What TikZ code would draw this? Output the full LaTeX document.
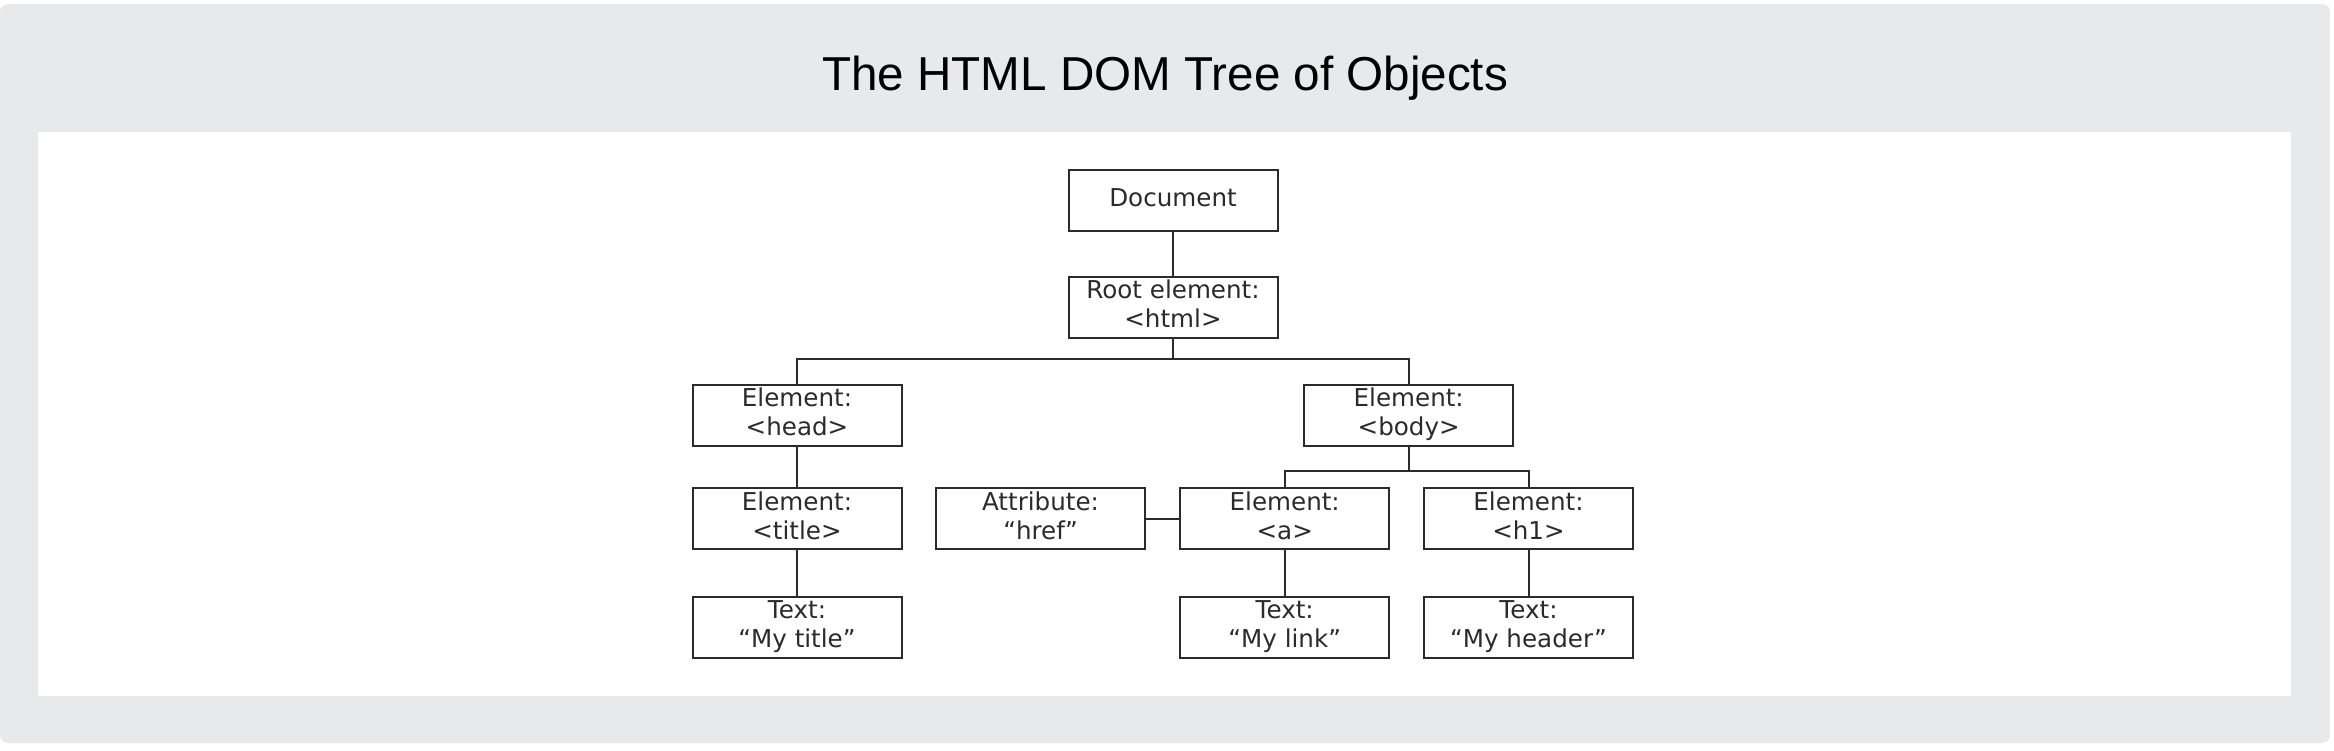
\documentclass[tikz,border=0pt]{standalone}
\usepackage{fontspec}
\setmainfont{Liberation Sans}
\newfontfamily\boxfont{DejaVu Sans}
\usetikzlibrary{positioning,calc}
\definecolor{Panel}{HTML}{E8E9EB}
\definecolor{Stroke}{HTML}{2B2B2B}

\begin{document}
\begin{tikzpicture}[x=.5pt,y=.5pt,
    box/.style={draw=Stroke, line width=1pt, fill=white, minimum width=104.5pt, minimum height=30.5pt,
      inner sep=0pt, align=center, text=Stroke, font=\boxfont\fontsize{12.3}{14.5}\selectfont}]
  \useasboundingbox (0,0) rectangle (2334,-750);
  \fill[Panel, rounded corners=4pt] (0,-4) rectangle (2330,-743);
  \fill[white] (38,-132) rectangle (2291,-696);
  \node[font=\fontsize{23.8}{28}\selectfont] (titre) at (1165,-78.5) {The HTML DOM Tree of Objects};

  \foreach \nom/\px/\py/\txt in {doc/1173/200.5/{Document}, html/1173/307/{Root element:\\<html>},
      head/797/415/{Element:\\<head>}, body/1408.7/415/{Element:\\<body>},
      title/797/518.7/{Element:\\<title>}, attr/1040.5/518.7/{Attribute:\\“href”},
      a/1284.7/518.7/{Element:\\<a>}, h1/1528.5/518.7/{Element:\\<h1>},
      ttitle/797/627/{Text:\\“My title”}, tlink/1284.7/627/{Text:\\“My link”},
      theader/1528.5/627/{Text:\\“My header”}}{
    \node[box] (\nom) at (\px,-\py) {\strut\txt\strut};
  }

  \coordinate (split1) at (1173,-359);
  \coordinate (split2) at (1408.7,-470.7);
  \begin{scope}[draw=Stroke, line width=1pt]
    \draw (doc) -- (html);
    \draw (html) -- (split1);
    \draw (head.north) |- (split1) -| (body.north);
    \draw (body) -- (split2);
    \draw (a.north) |- (split2) -| (h1.north);
    \draw (head) -- (title);
    \draw (title) -- (ttitle);
    \draw (attr) -- (a);
    \draw (a) -- (tlink);
    \draw (h1) -- (theader);
  \end{scope}
\end{tikzpicture}
\end{document}
